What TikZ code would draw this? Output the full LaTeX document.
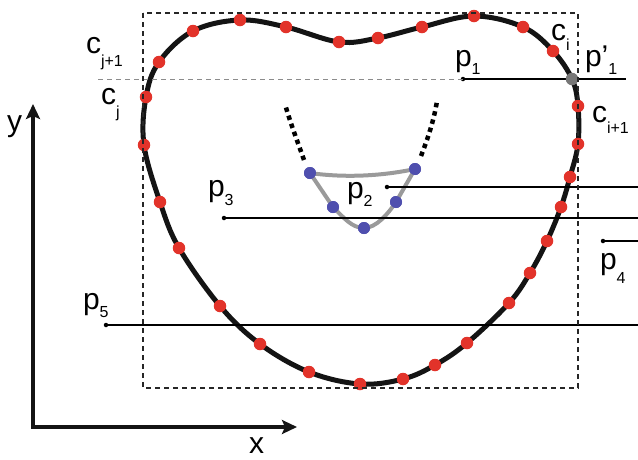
\documentclass[tikz,border=0pt]{standalone}
\usepackage{fontspec}
\setmainfont{Liberation Sans}
\usetikzlibrary{arrows.meta}
\definecolor{dotred}{HTML}{E2332A}
\definecolor{dotblue}{HTML}{4F4FAE}
\definecolor{linegray}{HTML}{9A9A9A}
\definecolor{dotgray}{HTML}{777777}
\newcommand{\lab}[3][-10pt]{{\fontsize{30}{30}\selectfont #2}\raisebox{#1}{\fontsize{16}{16}\selectfont #3}}
\tikzset{
  reddot/.style={circle,fill=dotred,minimum size=12.5pt,inner sep=0pt},
  bluedot/.style={circle,fill=dotblue,minimum size=12pt,inner sep=0pt},
  graydot/.style={circle,fill=dotgray,minimum size=12.5pt,inner sep=0pt},
  pdot/.style={circle,fill=black,minimum size=4.5pt,inner sep=0pt},
  pline/.style={line width=1.1pt,black},
  lbl/.style={anchor=base west,inner sep=0pt,outer sep=0pt},
  contour/.style={line width=5pt,black!92},
  poly/.style={line width=4pt,linegray},
  dots/.style={line width=4.5pt,black,dash pattern=on 4.5pt off 4pt},
  box/.style={line width=1.2pt,black!85,dash pattern=on 5pt off 4pt},
  axis/.style={line width=4pt,black!92}
}
\begin{document}
\begin{tikzpicture}[x=1pt,y=-1pt]
\useasboundingbox (0,0) rectangle (638,459);
% main contour
\draw[contour] plot[smooth cycle, tension=0.6] coordinates {
(146,97) (159,62) (193,31) (240,20) (286,27) (339,42) (378,38) (422,27) (474,16)
(523,27) (553,51) (572,79) (578,106) (578,144) (570,177) (561,207) (547,241)
(530,273) (509,303) (467,343) (435,365) (403,379) (360,384) (309,372) (260,344)
(220,306) (179,248) (160,202) (144,145)};
% red sample points
\foreach \pt [count=\i] in {(146,97),(159,62),(193,31),(240,20),(286,27),(339,42),(378,38),(422,27),(474,16),
(523,27),(553,51),(578,106),(578,144),(570,177),(561,207),(547,241),
(530,273),(509,303),(467,343),(435,365),(403,379),(360,384),(309,372),(260,344),
(220,306),(179,248),(160,202),(144,145)}
  \node[reddot] (c\i) at \pt {};
% inner polygon
\node[bluedot] (b1) at (310,173) {};
\node[bluedot] (b2) at (333,207) {};
\node[bluedot] (b3) at (364,228) {};
\node[bluedot] (b4) at (396,202) {};
\node[bluedot] (b5) at (415,169) {};
\draw[poly] (b1.center) .. controls (345,178) and (382,176) .. (b5.center);
\draw[poly] (b1.center) -- (b2.center) .. controls (344,218) and (352,228) .. (b3.center) .. controls (376,228) and (388,214) .. (b4.center) -- (b5.center);
\foreach \n in {b1,b2,b3,b4,b5} \node[bluedot] at (\n) {};
\coordinate (dl0) at (304,160);
\coordinate (dl1) at (285,104);
\coordinate (dr0) at (421,156);
\coordinate (dr1) at (437,101);
\draw[dots] (dl0) .. controls (297,140) and (290,122) .. (dl1);
\draw[dots] (dr0) .. controls (428,138) and (434,120) .. (dr1);
% query points and rays
\node[pdot] (p1) at (463,79) {};
\coordinate (p1e) at (626,79);
\coordinate (gl) at (98,79);
\draw[line width=1pt,black!45,dash pattern=on 5pt off 4pt] (gl) -- (p1.center);
\draw[pline] (p1.center) -- (p1e);
\node[graydot] (g1) at (572,79) {};
\node[pdot] (p2) at (387,187) {};
\coordinate (p2e) at (638,187);
\draw[pline] (p2.center) -- (p2e);
\node[pdot] (p3) at (224,218) {};
\coordinate (p3e) at (638,218);
\draw[pline] (p3.center) -- (p3e);
\node[pdot] (p4) at (603,241) {};
\coordinate (p4e) at (638,241);
\draw[pline] (p4.center) -- (p4e);
\node[pdot] (p5) at (106,325) {};
\coordinate (p5e) at (638,325);
\draw[pline] (p5.center) -- (p5e);
% bounding box
\draw[box] (143,13) rectangle (578,388);
% axes
\coordinate (O) at (33,427);
\coordinate (ytip) at (33,104);
\coordinate (xtip) at (297,427);
\draw[axis,{Stealth[length=15pt,width=14pt,inset=3pt]}-{Stealth[length=15pt,width=14pt,inset=3pt]}] (ytip) -- (O) -- (xtip);
% labels
\node[lbl] (lcj1) at (86,53) {\lab[-13pt]{c}{j+1}};
\node[lbl] (lcj) at (101,104) {\lab[-13pt]{c}{j}};
\node[lbl] (lp1) at (455,66) {\lab[-8pt]{p}{1}};
\node[lbl] (lci) at (551,40) {\lab[-10pt]{c}{i}};
\node[lbl] (lpp1) at (585,66) {\lab[-8pt]{p’}{1}};
\node[lbl] (lci1) at (592,122) {\lab[-11pt]{c}{i+1}};
\node[lbl] (lp3) at (208,196) {\lab[-9pt]{p}{3}};
\node[lbl] (lp2) at (347,198) {\lab[-8pt]{p}{2}};
\node[lbl] (lp4) at (600,269) {\lab[-14pt]{p}{4}};
\node[lbl] (lp5) at (83,309) {\lab[-8pt]{p}{5}};
\node[lbl] (ly) at (7,131) {{\fontsize{30}{30}\selectfont y}};
\node[lbl] (lx) at (249,453) {{\fontsize{30}{30}\selectfont x}};
\end{tikzpicture}
\end{document}
